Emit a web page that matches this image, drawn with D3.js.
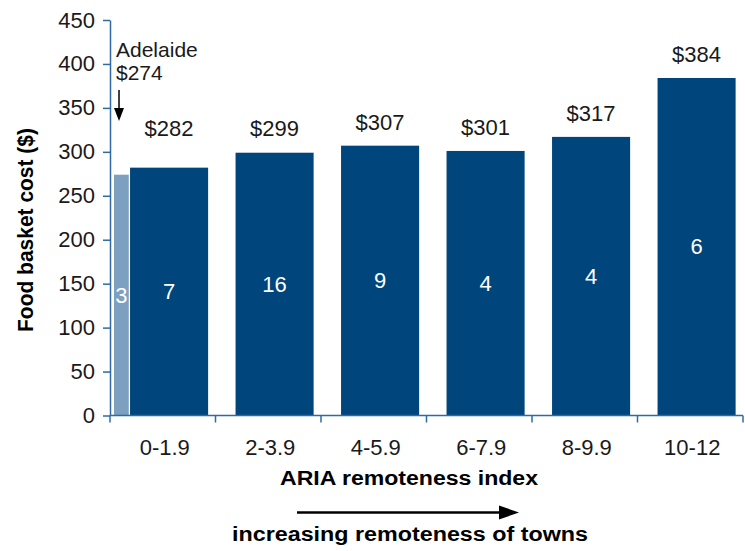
<!DOCTYPE html>
<html>
<head>
<meta charset="utf-8">
<script src="https://cdn.jsdelivr.net/npm/d3@7"></script>
<style>
  html, body { margin: 0; padding: 0; background: #fff; }
  svg { display: block; font-family: "Liberation Sans", Arial, sans-serif; }
</style>
</head>
<body>
<svg id="chart" width="745" height="551"></svg>
<script>
// Food basket cost by ARIA remoteness band
const categories = ["0-1.9", "2-3.9", "4-5.9", "6-7.9", "8-9.9", "10-12"];
const costs = [282, 299, 307, 301, 317, 384];
const townCounts = [7, 16, 9, 4, 4, 6];
const adelaideCost = [274];
const adelaideCount = [3];
const yTicks = [0, 50, 100, 150, 200, 250, 300, 350, 400, 450];

const dark = "#00457c";
const light = "#7ea0c0";
const axisColor = "#2f6aa5";
const textColor = "#1a1a1a";
const fs = 22;

const svg = d3.select("#chart");

const y = d3.scaleLinear().domain([0, 450]).range([415.5, 20]);
const x = d3.scaleBand().domain(categories).range([110, 743]).padding(0);
const bw = x.bandwidth();
const barX = c => x(c) + bw * 0.19;
const barW = bw * 0.74;

// bars
svg.append("g").selectAll("rect")
  .data(categories)
  .join("rect")
  .attr("x", barX)
  .attr("width", barW)
  .attr("y", (c, i) => y(costs[i]))
  .attr("height", (c, i) => y(0) - y(costs[i]))
  .attr("fill", dark);

// Adelaide reference bar in the first band
const adelX = x(categories[0]) + bw * 0.038;
const adelW = bw * 0.14;
svg.append("rect")
  .attr("x", adelX)
  .attr("width", adelW)
  .attr("y", y(adelaideCost[0]))
  .attr("height", y(0) - y(adelaideCost[0]))
  .attr("fill", light);

// number of towns inside each bar
svg.append("g").selectAll("text")
  .data(categories)
  .join("text")
  .attr("x", c => barX(c) + barW / 2)
  .attr("y", (c, i) => (y(costs[i]) + y(0)) / 2)
  .attr("dy", "0.35em")
  .attr("text-anchor", "middle")
  .attr("font-size", fs)
  .attr("fill", "#fff")
  .text((c, i) => townCounts[i]);

svg.append("text")
  .attr("x", adelX + adelW / 2)
  .attr("y", (y(adelaideCost[0]) + y(0)) / 2)
  .attr("dy", "0.35em")
  .attr("text-anchor", "middle")
  .attr("font-size", fs)
  .attr("fill", "#fff")
  .text(adelaideCount[0]);

// cost labels above bars (kept no lower than the $300 line)
svg.append("g").selectAll("text")
  .data(categories)
  .join("text")
  .attr("x", c => barX(c) + barW / 2)
  .attr("y", (c, i) => Math.min(y(costs[i]), y(300)) - 16)
  .attr("text-anchor", "middle")
  .attr("font-size", fs)
  .attr("fill", textColor)
  .text((c, i) => "$" + costs[i]);

// Adelaide annotation (two lines)
svg.append("text")
  .attr("x", adelX + 2).attr("y", 57)
  .attr("font-size", 21)
  .attr("fill", textColor)
  .text("Adelaide");
svg.append("text")
  .attr("x", adelX + 2).attr("y", 80)
  .attr("font-size", 21)
  .attr("fill", textColor)
  .text("$" + adelaideCost[0]);

const arrowX = adelX + 5;
svg.append("line")
  .attr("x1", arrowX).attr("x2", arrowX)
  .attr("y1", 90).attr("y2", 110)
  .attr("stroke", "#000").attr("stroke-width", 1.5);
svg.append("path")
  .attr("d", `M${arrowX - 5},108 L${arrowX + 5},108 L${arrowX},121 Z`)
  .attr("fill", "#000");

// y axis
const yAxis = svg.append("g")
  .attr("transform", "translate(110,0)")
  .call(d3.axisLeft(y).tickValues(yTicks).tickSize(7).tickSizeOuter(0).tickPadding(8));
yAxis.select(".domain").attr("stroke", axisColor).attr("stroke-width", 1.5);
yAxis.selectAll(".tick line").attr("stroke", axisColor).attr("stroke-width", 1.5);
yAxis.selectAll(".tick text")
  .attr("font-size", fs)
  .attr("font-family", "Liberation Sans, Arial, sans-serif")
  .attr("fill", textColor);

// x axis: ticks at band boundaries, labels centred in bands
const xAxisG = svg.append("g").attr("transform", `translate(0,${y(0)})`);
xAxisG.append("line")
  .attr("x1", 110).attr("x2", 743)
  .attr("stroke", axisColor).attr("stroke-width", 1.5);
const bounds = categories.map(c => x(c)).concat([x(categories[categories.length - 1]) + bw]);
xAxisG.selectAll("line.tick")
  .data(bounds)
  .join("line")
  .attr("class", "tick")
  .attr("x1", d => d).attr("x2", d => d)
  .attr("y1", 0).attr("y2", 7)
  .attr("stroke", axisColor).attr("stroke-width", 1.5);
xAxisG.selectAll("text")
  .data(categories)
  .join("text")
  .attr("x", c => x(c) + bw / 2 + 2)
  .attr("y", 39.5)
  .attr("text-anchor", "middle")
  .attr("font-size", fs)
  .attr("fill", textColor)
  .text(c => c);

// axis titles
svg.append("text")
  .attr("transform", "translate(32.5,230) rotate(-90)")
  .attr("text-anchor", "middle")
  .attr("font-size", 22)
  .attr("font-weight", "bold")
  .attr("fill", "#000")
  .attr("textLength", 204)
  .attr("lengthAdjust", "spacingAndGlyphs")
  .text("Food basket cost ($)");

svg.append("text")
  .attr("x", 409)
  .attr("y", 485)
  .attr("text-anchor", "middle")
  .attr("font-size", 20)
  .attr("font-weight", "bold")
  .attr("fill", "#000")
  .attr("textLength", 258)
  .attr("lengthAdjust", "spacingAndGlyphs")
  .text("ARIA remoteness index");

svg.append("line")
  .attr("x1", 297).attr("x2", 502)
  .attr("y1", 512.5).attr("y2", 512.5)
  .attr("stroke", "#000").attr("stroke-width", 2.5);
svg.append("path")
  .attr("d", "M499,505.5 L519,512.5 L499,519.5 Z")
  .attr("fill", "#000");

svg.append("text")
  .attr("x", 410)
  .attr("y", 541)
  .attr("text-anchor", "middle")
  .attr("font-size", 20)
  .attr("font-weight", "bold")
  .attr("fill", "#000")
  .attr("textLength", 356)
  .attr("lengthAdjust", "spacingAndGlyphs")
  .text("increasing remoteness of towns");
</script>
</body>
</html>
